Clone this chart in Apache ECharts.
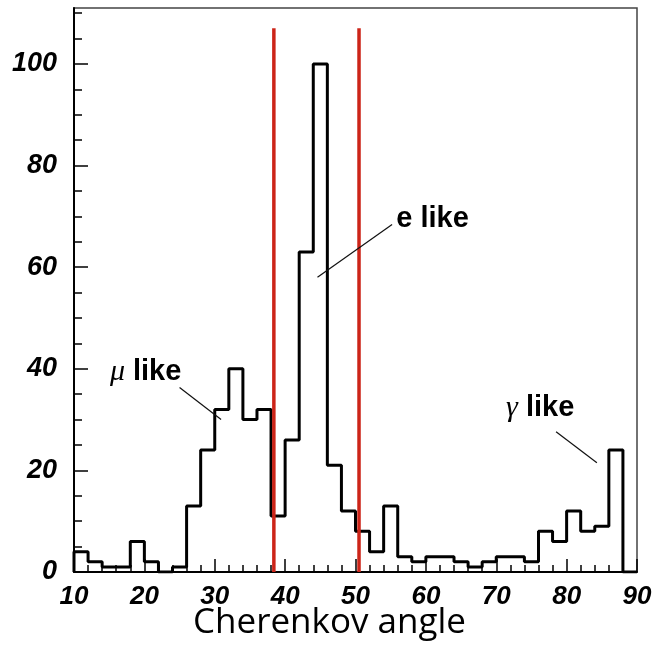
<!DOCTYPE html>
<html>
<head>
<meta charset="utf-8">
<script src="https://cdn.jsdelivr.net/npm/echarts@6/dist/echarts.min.js"></script>
<style>html,body{margin:0;padding:0;background:#fff;}#c{width:659px;height:650px;}</style>
</head>
<body>
<div id="c"></div>
<script>
// Histogram: 2-degree bins from 10 to 90
var binStart = 10;
var binWidth = 2;
var counts = [4, 2, 1, 1, 6, 2, 0, 1, 13, 24, 32, 40, 30, 32, 11, 26, 63, 100, 21, 12,
              8, 4, 13, 3, 2, 3, 3, 2, 1, 2, 3, 3, 2, 8, 6, 12, 8, 9, 24, 0];
// Selection cut lines (Cherenkov angle)
var cutAngles = [38.4, 50.5];
var cutTop = 107;
// Axis ticks
var xTicks = [10, 20, 30, 40, 50, 60, 70, 80, 90];
var yTicks = [0, 20, 40, 60, 80, 100];
var yMinorTicks = [5, 10, 15, 25, 30, 35, 45, 50, 55, 65, 70, 75, 85, 90, 95, 105, 110];
// Annotations
var annoLabels = ['e', 'mu', 'gamma'];
var annoText = [[55.8, 69.5], [15.1, 39.4], [71.4, 32.2]];
var annoLeaders = [[[55.2, 68.4], [44.6, 58.0]], [[25.0, 36.3], [30.9, 30.0]], [[78.5, 27.6], [84.3, 21.5]]];

var histPts = [[binStart, 0]];
for (var i = 0; i < counts.length; i++) histPts.push([binStart + i * binWidth, counts[i]]);
histPts.push([binStart + counts.length * binWidth, 0]);

var tickFont = {fontFamily: 'Liberation Sans', fontWeight: 'bold', fontStyle: 'italic', color: '#000'};

var series = [{
  type: 'line', data: histPts, step: 'end', symbol: 'none',
  lineStyle: {color: '#000', width: 3}, z: 3, silent: true
}];
cutAngles.forEach(function (a) {
  series.push({type: 'line', data: [[a, 0], [a, cutTop]], symbol: 'none',
    lineStyle: {color: '#cc2418', width: 3.5}, z: 4, silent: true});
});
series.push({
  type: 'lines', coordinateSystem: 'cartesian2d', z: 5, silent: true,
  lineStyle: {color: '#111', width: 1.2, opacity: 1},
  data: annoLeaders.map(function (c) { return {coords: c}; })
});
var greek = {e: '', mu: '{g|μ}', gamma: '{g|γ}'};
series.push({
  type: 'scatter', symbolSize: 0, z: 6, silent: true,
  itemStyle: {color: '#000', opacity: 1},
  data: annoText.map(function (p, i) { return {value: p, name: annoLabels[i]}; }),
  label: {
    show: true, position: 'right', distance: 0, align: 'left', verticalAlign: 'middle',
    color: '#000', textBorderWidth: 0,
    formatter: function (p) {
      return p.name === 'e' ? '{b|e like}' : greek[p.name] + '{b| like}';
    },
    rich: {
      b: {fontFamily: 'Liberation Sans', fontWeight: 'bold', fontSize: 29, color: '#000'},
      g: {fontFamily: 'Liberation Serif', fontStyle: 'italic', fontSize: 30, color: '#000'}
    }
  }
});

var chart = echarts.init(document.getElementById('c'), null, {renderer: 'canvas'});
chart.setOption({
  animation: false,
  backgroundColor: '#fff',
  title: {
    text: 'Cherenkov angle', left: 'center', top: 601,
    textStyle: {fontFamily: 'Open Sans', fontWeight: 'normal', fontSize: 35, color: '#000'}
  },
  grid: {left: 74, right: 22, top: 8, bottom: 78, show: true, borderColor: '#444', borderWidth: 1.5, backgroundColor: 'transparent'},
  xAxis: {
    type: 'value', min: 10, max: 90, interval: 10,
    axisLine: {show: true, onZero: false, lineStyle: {color: '#000', width: 2}},
    axisTick: {show: true, inside: true, length: 13, lineStyle: {color: '#000', width: 1.5}},
    minorTick: {show: true, splitNumber: 5, length: 7, lineStyle: {color: '#000', width: 1.5}},
    splitLine: {show: false},
    axisLabel: Object.assign({fontSize: 26, margin: 12, customValues: xTicks}, tickFont)
  },
  yAxis: [{
    type: 'value', min: 0, max: 111,
    axisLine: {show: true, lineStyle: {color: '#000', width: 2}},
    axisTick: {show: true, inside: true, length: 14, customValues: yTicks, lineStyle: {color: '#000', width: 1.5}},
    splitLine: {show: false},
    axisLabel: Object.assign({fontSize: 27, margin: 17, customValues: yTicks}, tickFont)
  }, {
    type: 'value', min: 0, max: 111, position: 'left',
    axisLine: {show: false},
    axisTick: {show: true, inside: true, length: 8, customValues: yMinorTicks, lineStyle: {color: '#000', width: 1.5}},
    splitLine: {show: false},
    axisLabel: {show: false}
  }],
  series: series
});
</script>
</body>
</html>
